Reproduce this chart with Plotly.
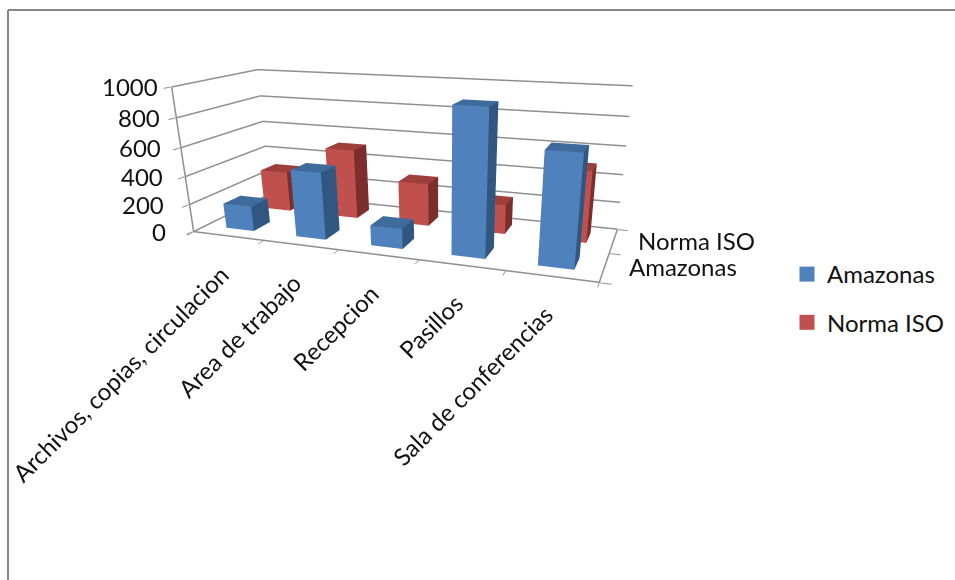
import plotly.graph_objects as go

categories = ["Archivos, copias, circulacion", "Area de trabajo", "Recepcion", "Pasillos", "Sala de conferencias"]
series_names = ["Amazonas", "Norma ISO"]
amazonas = [180, 470, 140, 960, 730]
norma_iso = [300, 510, 310, 210, 500]
z_ticks = [0, 200, 400, 600, 800, 1000]
x_edges = [-0.5, 0.5, 1.5, 2.5, 3.5, 4.5]
y_edges = [-0.5, 0.5, 1.5]

W, H = 955, 580
colors = {"Amazonas": ("#4F81BD", "#3F6A9C", "#31567F"), "Norma ISO": ("#C0504D", "#9E3F3C", "#7B2E2C")}
grid = "#8F8F8F"
frame = "#868686"
BAR_HALF_X, BAR_HALF_Y = 0.20, 0.21
X0, X1, Y0, Y1 = x_edges[0], x_edges[-1], y_edges[0], y_edges[-1]
# a small margin keeps the wall lines clear of the scene's clipping box
PAD_X, PAD_Y, PAD_Z = 0.01, 0.01, 3


def bar(cx, cy, h, cols, name):
    xs = [cx - BAR_HALF_X, cx + BAR_HALF_X, cx + BAR_HALF_X, cx - BAR_HALF_X] * 2
    ys = [cy - BAR_HALF_Y, cy - BAR_HALF_Y, cy + BAR_HALF_Y, cy + BAR_HALF_Y] * 2
    zs = [0] * 4 + [h] * 4
    i = [0, 0, 1, 1, 4, 4, 3, 3, 0, 0, 2, 2]
    j = [1, 5, 2, 6, 5, 6, 2, 6, 3, 7, 3, 7]
    k = [5, 4, 6, 5, 6, 7, 6, 7, 7, 4, 7, 6]
    front, top, side = cols
    faces = [front, front, side, side, top, top, front, front, side, side, front, front]
    return go.Mesh3d(x=xs, y=ys, z=zs, i=i, j=j, k=k, facecolor=faces, flatshading=True, hoverinfo="name", name=name,
                     lighting=dict(ambient=1, diffuse=0, specular=0, fresnel=0, roughness=1), showlegend=False)


fig = go.Figure()


def wall_line(xs, ys, zs):
    fig.add_trace(go.Scatter3d(x=xs, y=ys, z=zs, mode="lines", line=dict(color=grid, width=3),
                               showlegend=False, hoverinfo="skip"))


# gridlines run along the left wall and the back wall
for v in z_ticks:
    wall_line([X0, X0, X1], [Y0, Y1, Y1], [v, v, v])
wall_line([X0, X1, X1], [Y0, Y0, Y1], [0, 0, 0])
wall_line([X0, X0], [Y0, Y0], [z_ticks[0], z_ticks[-1]])

for row, (name, vals) in enumerate(zip(series_names, [amazonas, norma_iso])):
    for c, v in enumerate(vals):
        fig.add_trace(bar(c, row, v, colors[name], name))
    fig.add_trace(go.Scatter3d(x=[None], y=[None], z=[None], mode="markers", name=name, legendgroup=name,
                               marker=dict(symbol="square", size=15, color=colors[name][0])))

font = dict(family="Lato", size=24, color="#111111")
notes = []
for v in z_ticks:
    notes.append(dict(x=X0, y=Y0, z=v, text=str(v), showarrow=False, xanchor="right", yanchor="middle",
                      xshift=-26 + v * 0.014, font=font))
for c, label in enumerate(categories):
    notes.append(dict(x=c, y=Y0, z=0, text=label, showarrow=False, textangle=-45, xanchor="right", yanchor="top",
                      xshift=9, yshift=-21, font=font))
for row, name in enumerate(series_names):
    notes.append(dict(x=X1, y=row, z=0, text=name, showarrow=False, xanchor="left", yanchor="middle", xshift=22, font=font))


def axis(rng, vals):
    return dict(range=rng, tickvals=vals, showticklabels=False, title=dict(text=""), showbackground=False, showline=False,
                ticks="outside", ticklen=8, tickcolor=grid, tickwidth=2, zeroline=False, showspikes=False, showgrid=False)


fig.update_layout(
    width=W, height=H, margin=dict(l=0, r=0, t=0, b=0), paper_bgcolor="white",
    scene=dict(
        domain=dict(x=[0, 0.9291], y=[0, 1]),
        xaxis=axis([X0 - PAD_X, X1 + PAD_X], x_edges),
        yaxis=axis([Y0 - PAD_Y, Y1 + PAD_Y], y_edges),
        zaxis=axis([-PAD_Z, 1000 + PAD_Z], z_ticks),
        aspectmode="manual", aspectratio=dict(x=3.7970, y=1.3674, z=1.3312),
        camera=dict(eye=dict(x=2.3508, y=-5.8566, z=1.5096),
                    center=dict(x=0.2098, y=0.4723, z=-1.4484),
                    up=dict(x=-0.0034, y=0, z=1), projection=dict(type="perspective")),
        annotations=notes),
    legend=dict(x=787 / W, y=1 - 252 / H, xanchor="left", yanchor="top", font=font, tracegroupgap=14, itemsizing="trace"),
    shapes=[dict(type="line", xref="paper", yref="paper", x0=8 / W, x1=1, y0=1 - 10 / H, y1=1 - 10 / H, line=dict(color=frame, width=2)),
            dict(type="line", xref="paper", yref="paper", x0=8 / W, x1=8 / W, y0=0, y1=1 - 10 / H, line=dict(color=frame, width=2))],
)
fig.write_html("out.html")
